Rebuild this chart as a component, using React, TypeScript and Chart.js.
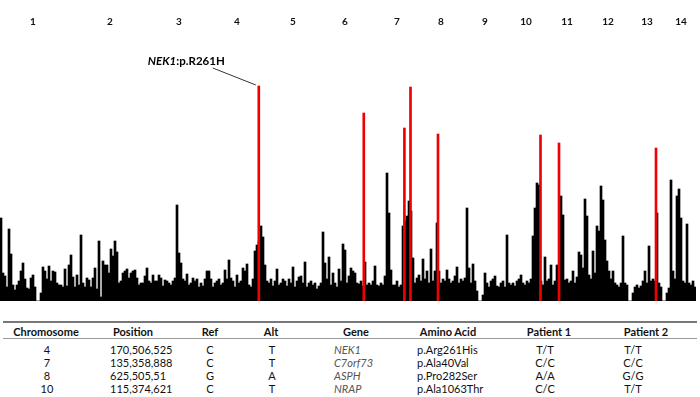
import React, { useEffect, useRef } from "react";
import { Chart, registerables } from "chart.js";
Chart.register(...registerables);

// Genome-wide score per 2-px bin (0 = gap)
const scores: number[] = [
  83, 28, 25, 14, 72, 47, 16, 11, 16, 20, 30, 38, 22, 13, 12, 23, 26, 14, 0, 0,
  8, 34, 30, 22, 35, 20, 30, 29, 18, 16, 16, 14, 32, 15, 36, 46, 24, 14, 26, 16,
  66, 18, 14, 23, 21, 14, 23, 33, 12, 60, 4, 40, 36, 36, 28, 52, 45, 60, 49, 18,
  20, 28, 30, 32, 23, 28, 30, 31, 23, 16, 18, 18, 25, 33, 20, 18, 26, 20, 20, 26,
  23, 15, 21, 20, 18, 16, 20, 23, 96, 48, 38, 22, 20, 27, 16, 18, 23, 20, 22, 14,
  18, 15, 22, 30, 30, 22, 14, 18, 20, 22, 16, 18, 31, 22, 41, 23, 20, 14, 26, 18,
  20, 33, 30, 37, 16, 14, 22, 50, 56, 60, 75, 64, 36, 20, 18, 22, 15, 20, 32, 16,
  18, 22, 20, 15, 22, 18, 34, 14, 20, 24, 25, 18, 39, 14, 18, 20, 16, 18, 12, 15,
  18, 69, 38, 22, 44, 16, 28, 18, 14, 32, 20, 57, 51, 18, 25, 33, 30, 28, 18, 17,
  20, 15, 39, 16, 18, 16, 20, 35, 16, 15, 18, 16, 25, 128, 88, 31, 16, 16, 20, 14,
  16, 75, 80, 85, 100, 90, 43, 18, 23, 26, 20, 42, 22, 30, 18, 52, 20, 30, 78, 30,
  18, 22, 20, 31, 22, 18, 20, 25, 34, 18, 22, 20, 23, 93, 33, 18, 37, 20, 10, 0,
  0, 6, 28, 18, 14, 20, 22, 25, 15, 14, 18, 20, 14, 66, 18, 16, 18, 15, 20, 22,
  26, 18, 16, 20, 18, 22, 65, 93, 118, 116, 20, 16, 44, 20, 22, 36, 16, 20, 36, 30,
  105, 86, 21, 22, 18, 20, 30, 18, 24, 49, 46, 33, 102, 85, 26, 22, 50, 28, 75, 70,
  115, 101, 61, 40, 30, 22, 30, 18, 16, 14, 18, 65, 18, 16, 0, 0, 8, 14, 16, 13,
  15, 20, 30, 18, 55, 20, 22, 20, 88, 18, 14, 0, 0, 8, 13, 121, 30, 22, 105, 112,
  83, 20, 18, 77, 18, 16, 20, 14,
];

// Highlighted variants (red bars): bin position and score
const variantBins: number[] = [128.9, 181.4, 201.7, 204.75, 218.5, 269.75, 279, 327.5];
const variantScores: number[] = [215, 188, 173, 214, 167, 166, 158, 153];

// Chromosome labels along the top, centred on these bins
const chromosomes: string[] = ["1", "2", "3", "4", "5", "6", "7", "8", "9", "10", "11", "12", "13", "14"];
const chromosomeCenters: number[] = [16, 54.5, 89, 118, 146, 172, 198, 220, 242, 262.5, 283, 303.5, 323, 340];

// Annotation of the first variant
const annotationGene = "NEK1";
const annotationChange = ":p.R261H";

// Table
const tableHeaders: string[] = ["Chromosome", "Position", "Ref", "Alt", "Gene", "Amino Acid", "Patient 1", "Patient 2"];
const colChromosome: string[] = ["4", "7", "8", "10"];
const colPosition: string[] = ["170,506,525", "135,358,888", "625,505,51", "115,374,621"];
const colRef: string[] = ["C", "C", "G", "C"];
const colAlt: string[] = ["T", "T", "A", "T"];
const colGene: string[] = ["NEK1", "C7orf73", "ASPH", "NRAP"];
const colAminoAcid: string[] = ["p.Arg261His", "p.Ala40Val", "p.Pro282Ser", "p.Ala1063Thr"];
const colPatient1: string[] = ["T/T", "C/C", "A/A", "C/C"];
const colPatient2: string[] = ["T/T", "C/C", "G/G", "T/T"];

const FONT = "Lato, 'Open Sans', sans-serif";

const overlayPlugin = {
  id: "overlay",
  afterDraw(chart: any) {
    const ctx = chart.ctx;
    const xs = chart.scales.x;
    const ys = chart.scales.y;
    ctx.save();
    ctx.fillStyle = "#111";
    ctx.font = `bold 10px ${FONT}`;
    ctx.textAlign = "center";
    ctx.textBaseline = "middle";
    chromosomes.forEach((c, i) => {
      ctx.fillText(c, xs.getPixelForValue(chromosomeCenters[i]), 22);
    });
    // annotation
    const px = xs.getPixelForValue(variantBins[0]);
    const py = ys.getPixelForValue(variantScores[0]);
    ctx.strokeStyle = "#333";
    ctx.lineWidth = 1;
    ctx.beginPath();
    ctx.moveTo(px - 3, py - 1);
    ctx.lineTo(px - 46, py - 18);
    ctx.stroke();
    ctx.textAlign = "left";
    ctx.textBaseline = "alphabetic";
    let tx = px - 111;
    const ty = py - 21;
    ctx.fillStyle = "#000";
    ctx.font = `italic bold 11.5px ${FONT}`;
    ctx.fillText(annotationGene, tx, ty);
    tx += ctx.measureText(annotationGene).width;
    ctx.font = `bold 11.5px ${FONT}`;
    ctx.fillText(annotationChange, tx, ty);
    ctx.restore();
  },
};

type Cell = { text: string; x: number; y: number; align: "center" | "left"; bold?: boolean; italic?: boolean; color?: string };

export default function App() {
  const canvasRef = useRef<HTMLCanvasElement | null>(null);

  useEffect(() => {
    document.body.style.margin = "0";
    const canvas = canvasRef.current;
    if (!canvas) return;
    const chart = new Chart(canvas, {
      type: "bar",
      data: {
        datasets: [
          {
            label: "variants",
            data: variantBins.map((x, i) => ({ x, y: variantScores[i] })),
            backgroundColor: "#f00000",
            barThickness: 2,
            grouped: false,
            order: 0,
          } as any,
          {
            label: "score",
            data: scores.map((y, i) => ({ x: i, y })),
            backgroundColor: "#000000",
            barThickness: 2,
            grouped: false,
            order: 1,
          } as any,
        ],
      },
      options: {
        animation: false,
        responsive: false,
        maintainAspectRatio: false,
        layout: { padding: { left: 0, right: 4, top: 0, bottom: 2 } },
        plugins: { legend: { display: false }, tooltip: { enabled: false } },
        scales: {
          x: { type: "linear", min: -0.5, max: scores.length - 0.5, display: false, offset: false },
          y: { min: 0, max: 301, display: false },
        },
      },
      plugins: [overlayPlugin],
    });
    return () => chart.destroy();
  }, []);

  const rowY = [348.5, 361.5, 374.5, 387.5];
  const cells: Cell[] = [];
  const headerX = [46, 133, 210, 271, 356, 448, 549, 646];
  tableHeaders.forEach((h, i) => cells.push({ text: h, x: headerX[i], y: 331, align: "center", bold: true }));
  rowY.forEach((y, r) => {
    cells.push({ text: colChromosome[r], x: 47, y, align: "center" });
    cells.push({ text: colPosition[r], x: 110, y, align: "left" });
    cells.push({ text: colRef[r], x: 210, y, align: "center" });
    cells.push({ text: colAlt[r], x: 272, y, align: "center" });
    cells.push({ text: colGene[r], x: 334, y, align: "left", italic: true, color: "#555" });
    cells.push({ text: colAminoAcid[r], x: 417, y, align: "left" });
    cells.push({ text: colPatient1[r], x: 545, y, align: "center" });
    cells.push({ text: colPatient2[r], x: 633, y, align: "center" });
  });

  return (
    <div style={{ position: "absolute", left: 0, top: 0, width: 700, height: 397, background: "#fff", overflow: "hidden", fontFamily: FONT }}>
      <canvas ref={canvasRef} width={700} height={303} style={{ position: "absolute", left: 0, top: 0 }} />
      <div style={{ position: "absolute", left: 3, top: 321, width: 694, height: 2, background: "#777" }} />
      <div style={{ position: "absolute", left: 3, top: 338, width: 694, height: 1, background: "#999" }} />
      {cells.map((c, i) => (
        <span
          key={i}
          style={{
            position: "absolute",
            left: c.x,
            top: c.y,
            transform: c.align === "center" ? "translate(-50%, -50%)" : "translate(0, -50%)",
            fontSize: "11px",
            lineHeight: 1,
            whiteSpace: "nowrap",
            fontWeight: c.bold ? 700 : 400,
            fontStyle: c.italic ? "italic" : "normal",
            color: c.color || "#111",
          }}
        >
          {c.text}
        </span>
      ))}
    </div>
  );
}
